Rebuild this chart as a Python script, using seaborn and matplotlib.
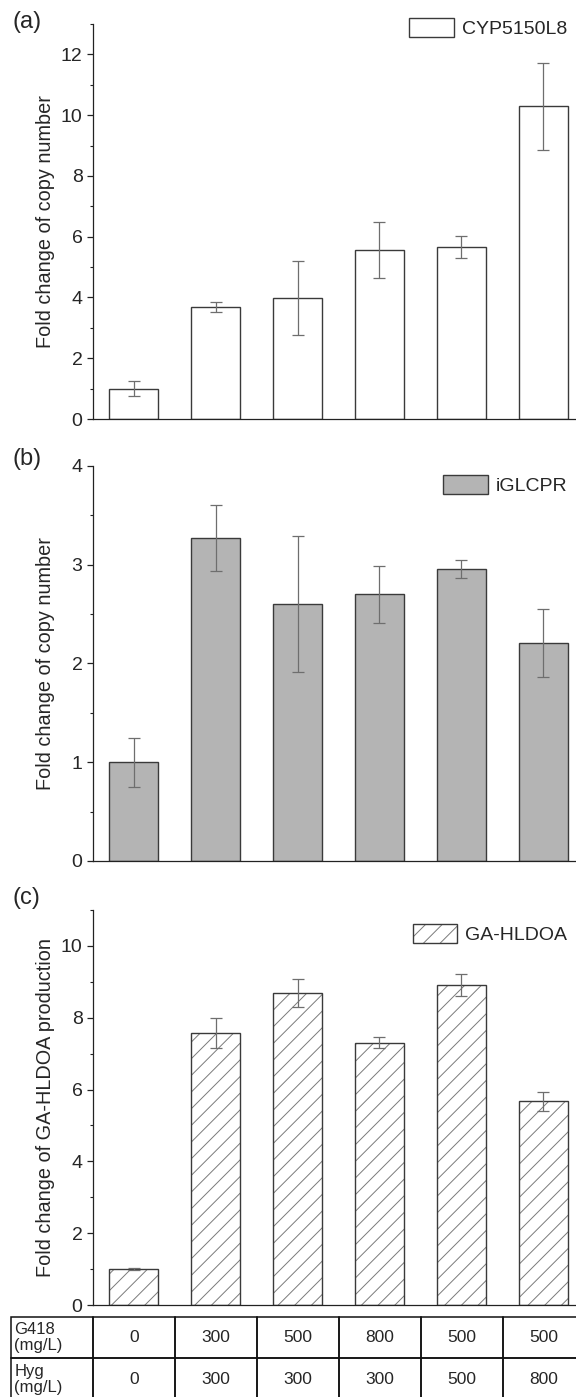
import matplotlib
matplotlib.use("Agg")
import matplotlib.pyplot as plt
import seaborn as sns
from matplotlib.ticker import MultipleLocator
from matplotlib.colors import to_rgba

# ---------------- data ----------------
conditions = ["0/0", "300/300", "500/300", "800/300", "500/500", "500/800"]
g418_row = ["0", "300", "500", "800", "500", "500"]
hyg_row = ["0", "300", "300", "300", "500", "800"]
row_labels = ["G418\n(mg/L)", "Hyg\n(mg/L)"]

cyp_vals = [1.0, 3.68, 3.98, 5.55, 5.67, 10.29]
cyp_sd = [0.25, 0.16, 1.22, 0.92, 0.36, 1.43]

cpr_vals = [1.0, 3.27, 2.60, 2.70, 2.96, 2.21]
cpr_sd = [0.25, 0.33, 0.69, 0.29, 0.09, 0.345]

ga_vals = [1.0, 7.57, 8.69, 7.31, 8.91, 5.67]
ga_sd = [0.02, 0.41, 0.39, 0.14, 0.30, 0.26]

legend_labels = ["CYP5150L8", "iGLCPR", "GA-HLDOA"]
ylabels = ["Fold change of copy number", "Fold change of copy number",
           "Fold change of GA-HLDOA production"]
panel_tags = ["(a)", "(b)", "(c)"]

# ---------------- style ----------------
sns.set_theme(style="ticks")
plt.rcParams["font.family"] = ["Liberation Sans", "DejaVu Sans"]
plt.rcParams["hatch.linewidth"] = 0.7
plt.rcParams["axes.edgecolor"] = "#222222"
plt.rcParams["axes.linewidth"] = 0.9

W, H = 576, 1397
fig = plt.figure(figsize=(W / 100, H / 100), dpi=100)

ax_left_px, ax_right_px = 93, 584
ax_h_px = 395
tops_px = [24, 466, 910]
ylims = [13, 4, 11]
major = [2, 1, 2]
minor = [1, 0.5, 1]
fills = ["white", "#b4b4b4", "white"]
hatches = [None, None, "//"]
vals_list = [cyp_vals, cpr_vals, ga_vals]
sd_list = [cyp_sd, cpr_sd, ga_sd]
legend_center_y = [28, 485, 934]
tag_top_y = [11, 448, 887]

for i in range(3):
    bottom_px = tops_px[i] + ax_h_px
    ax = fig.add_axes([ax_left_px / W, 1 - bottom_px / H,
                       (ax_right_px - ax_left_px) / W, ax_h_px / H])
    kw = {}
    if hatches[i]:
        kw["hatch"] = hatches[i]
    sns.barplot(x=conditions, y=vals_list[i], width=0.6, color=fills[i],
                edgecolor="#3a3a3a", linewidth=1.0, errorbar=None, ax=ax,
                saturation=1, **kw)
    if hatches[i]:
        for p in ax.patches:
            if hasattr(p, "set_hatchcolor"):
                p.set_hatchcolor("#7a7a7a")
            else:
                p._hatch_color = to_rgba("#7a7a7a")
    ax.errorbar(x=list(range(len(conditions))), y=vals_list[i], yerr=sd_list[i],
                fmt="none", ecolor="#6e6e6e", elinewidth=0.9, capsize=4.5,
                capthick=0.9, zorder=5)
    ax.set_xlim(-0.5, 5.5)
    ax.set_ylim(0, ylims[i])
    ax.yaxis.set_major_locator(MultipleLocator(major[i]))
    ax.yaxis.set_minor_locator(MultipleLocator(minor[i]))
    ax.tick_params(axis="y", which="major", length=4.5, width=0.9,
                   labelsize=14, pad=3, color="#222222")
    ax.tick_params(axis="y", which="minor", length=2.5, width=0.8,
                   color="#222222")
    ax.tick_params(axis="x", bottom=False, labelbottom=False)
    ax.set_xlabel("")
    ax.set_ylabel(ylabels[i], fontsize=14.3)
    ax.yaxis.set_label_coords((55 - ax_left_px) / (ax_right_px - ax_left_px), 0.5)
    for s in ["top", "right"]:
        ax.spines[s].set_visible(False)

    leg = ax.legend([ax.patches[0]], [legend_labels[i]], loc="center right",
                    bbox_to_anchor=(567 / W, 1 - legend_center_y[i] / H),
                    bbox_transform=fig.transFigure, frameon=False,
                    fontsize=14, handlelength=2.3, handleheight=1.15,
                    handletextpad=0.4, borderpad=0, borderaxespad=0)

    fig.text(13 / W, 1 - tag_top_y[i] / H, panel_tags[i], fontsize=17,
             ha="left", va="top")

# ---------------- table ----------------
tb_top, tb_bot = 1316.7, 1400.0
tb_left, tb_right = 11, 585
tax = fig.add_axes([tb_left / W, 1 - tb_bot / H,
                    (tb_right - tb_left) / W, (tb_bot - tb_top) / H])
tax.axis("off")
cell_text = [[row_labels[0]] + g418_row, [row_labels[1]] + hyg_row]
tbl = tax.table(cellText=cell_text, bbox=[0, 0, 1, 1], cellLoc="center")
tbl.auto_set_font_size(False)
tbl.set_fontsize(12.5)
for (r, c), cell in tbl.get_celld().items():
    cell.set_linewidth(1.1)
    cell.set_edgecolor("#111111")
    cell.set_facecolor("none")
    if c == 0:
        cell.PAD = 0.04
        cell._loc = "left"
        t = cell.get_text()
        t.set_ha("left")
        t.set_fontsize(12)
        t.set_linespacing(1.1)

fig.savefig("out.png", dpi=100)
